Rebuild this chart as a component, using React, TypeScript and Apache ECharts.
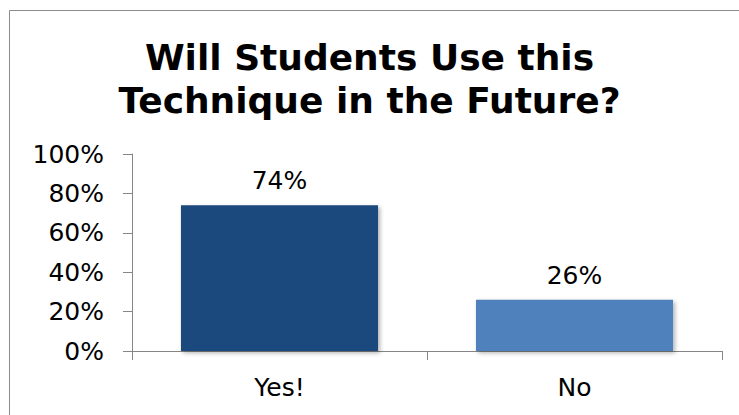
import React, { useEffect, useRef } from "react";
import * as echarts from "echarts";

const categories = ["Yes!", "No"];
const values = [74, 26];
const barColors = ["#1F497D", "#4F81BD"];
const yTicks = [0, 20, 40, 60, 80, 100];
const titleText = "Will Students Use this\nTechnique in the Future?";

export default function App() {
  const ref = useRef<HTMLDivElement>(null);
  useEffect(() => {
    document.body.style.margin = "0";
    const chart = echarts.init(ref.current!, null, { renderer: "svg" });
    const font = "DejaVu Sans";
    chart.setOption({
      animation: false,
      backgroundColor: "#ffffff",
      title: {
        text: titleText,
        left: "center",
        top: 31,
        textStyle: {
          fontFamily: font,
          fontWeight: "bold",
          fontSize: 36,
          lineHeight: 43,
          color: "#000000",
        },
      },
      graphic: [
        {
          type: "rect",
          shape: { x: 9.5, y: 10.5, width: 800, height: 500 },
          style: { fill: "none", stroke: "#8c8c8c", lineWidth: 1 },
          silent: true,
        },
      ],
      grid: { left: 132, right: 17, top: 154, bottom: 64 },
      xAxis: {
        type: "category",
        data: categories,
        boundaryGap: true,
        axisLine: { show: true, lineStyle: { color: "#868686", width: 1 } },
        axisTick: { show: true, alignWithLabel: false, length: 9, lineStyle: { color: "#868686" } },
        axisLabel: { fontFamily: font, fontSize: 25, color: "#000000", margin: 24 },
      },
      yAxis: {
        type: "value",
        min: 0,
        max: 100,
        interval: 20,
        axisLine: { show: true, lineStyle: { color: "#868686", width: 1 } },
        axisTick: { show: true, length: 9, lineStyle: { color: "#868686" } },
        splitLine: { show: false },
        axisLabel: {
          fontFamily: font,
          fontSize: 25,
          color: "#000000",
          margin: 28,
          formatter: (v: number) => (yTicks.includes(v) ? v + "%" : ""),
        },
      },
      series: [
        {
          type: "bar",
          barWidth: "66.8%",
          data: values.map((v, i) => ({
            value: v,
            itemStyle: {
              color: barColors[i],
              shadowBlur: 4,
              shadowOffsetX: 2,
              shadowOffsetY: 2,
              shadowColor: "rgba(0,0,0,0.3)",
            },
          })),
          label: {
            show: true,
            position: "top",
            distance: 12,
            fontFamily: font,
            fontSize: 25,
            color: "#000000",
            formatter: (p: any) => p.value + "%",
          },
        },
      ],
    });
    return () => chart.dispose();
  }, []);
  return (
    <div
      ref={ref}
      style={{ position: "fixed", left: 0, top: 0, width: 739, height: 415 }}
    />
  );
}
